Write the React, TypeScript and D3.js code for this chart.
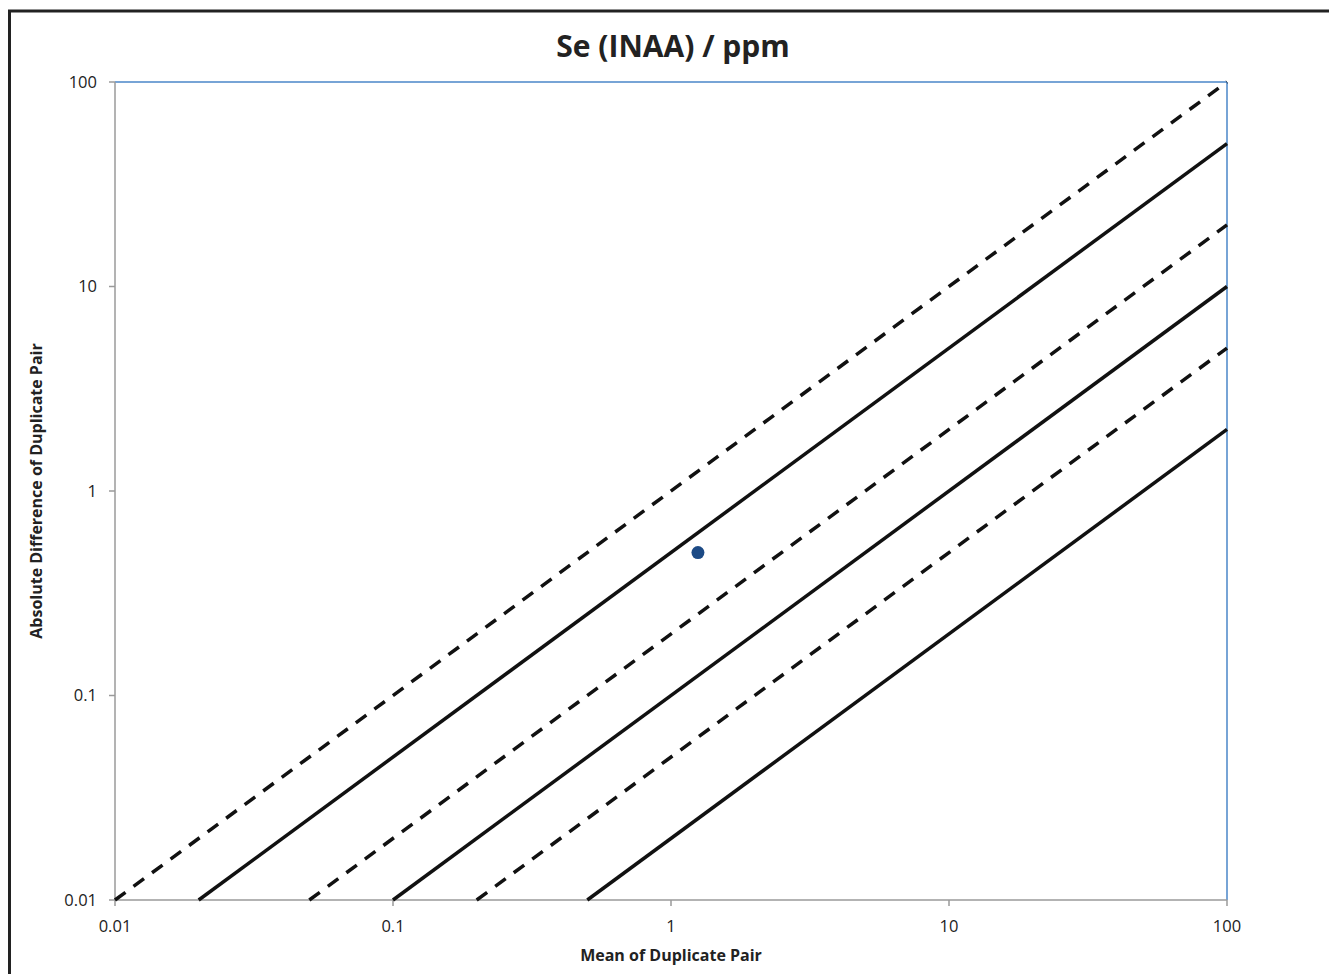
import React from "react";
import * as d3 from "d3";

const W = 1329;
const H = 974;

const title = "Se (INAA) / ppm";
const xTitle = "Mean of Duplicate Pair";
const yTitle = "Absolute Difference of Duplicate Pair";

const tickValues = [0.01, 0.1, 1, 10, 100];
const tickLabels = ["0.01", "0.1", "1", "10", "100"];

// reference lines: y = ratio * x
const lineRatios = [1, 0.5, 0.2, 0.1, 0.05, 0.02];
const lineDashed = [true, false, true, false, true, false];

// data point(s)
const pointX = [1.25];
const pointY = [0.5];

export default function App() {
  const left = 115, right = 1227, top = 82, bottom = 900;
  const x = d3.scaleLog().domain([0.01, 100]).range([left, right]);
  const y = d3.scaleLog().domain([0.01, 100]).range([bottom, top]);
  const font = "'Open Sans', sans-serif";
  const line = d3
    .line<[number, number]>()
    .x((d) => x(d[0]))
    .y((d) => y(d[1]));

  return (
    <svg
      width={W}
      height={H}
      style={{ position: "absolute", left: 0, top: 0, background: "#fff" }}
    >
      <rect x={0} y={0} width={W} height={H} fill="#fff" />
      <rect x={9.5} y={11} width={W + 10} height={H + 10} fill="none" stroke="#222" strokeWidth={3} />
      <text x={673} y={57} textAnchor="middle" fontFamily={font} fontWeight="bold" fontSize={30} fill="#222">
        {title}
      </text>

      {/* axes frame */}
      <line x1={left} x2={right} y1={top} y2={top} stroke="#4a86c8" strokeWidth={1.5} />
      <line x1={right} x2={right} y1={top} y2={bottom} stroke="#4a86c8" strokeWidth={1.5} />
      <line x1={left} x2={left} y1={top} y2={bottom} stroke="#9a9a9a" strokeWidth={1.5} />
      <line x1={left} x2={right} y1={bottom} y2={bottom} stroke="#9a9a9a" strokeWidth={1.5} />

      {tickValues.map((v, i) => (
        <g key={"y" + i}>
          <line x1={left - 6} x2={left} y1={y(v)} y2={y(v)} stroke="#9a9a9a" strokeWidth={1.5} />
          <text x={97} y={y(v)} dy="0.35em" textAnchor="end" fontFamily={font} fontSize={16.5} fill="#222">
            {tickLabels[i]}
          </text>
        </g>
      ))}
      {tickValues.map((v, i) => (
        <g key={"x" + i}>
          <line x1={x(v)} x2={x(v)} y1={bottom} y2={bottom + 6} stroke="#9a9a9a" strokeWidth={1.5} />
          <text x={x(v)} y={926} dy="0.35em" textAnchor="middle" fontFamily={font} fontSize={16.5} fill="#222">
            {tickLabels[i]}
          </text>
        </g>
      ))}

      <text x={671} y={955} dy="0.35em" textAnchor="middle" fontFamily={font} fontWeight="bold" fontSize={16} fill="#222">
        {xTitle}
      </text>
      <text
        transform={`translate(36,491) rotate(-90)`}
        dy="0.35em"
        textAnchor="middle"
        fontFamily={font}
        fontWeight="bold"
        fontSize={16}
        fill="#222"
      >
        {yTitle}
      </text>

      {lineRatios.map((r, i) => {
        const x0 = Math.max(0.01, 0.01 / r);
        const pts: [number, number][] = [
          [x0, x0 * r],
          [100, 100 * r],
        ];
        return (
          <path
            key={"l" + i}
            d={line(pts) || ""}
            fill="none"
            stroke="#111"
            strokeWidth={3.5}
            strokeDasharray={lineDashed[i] ? "13,10" : undefined}
          />
        );
      })}

      {pointX.map((px, i) => (
        <circle key={"p" + i} cx={x(px)} cy={y(pointY[i])} r={6.5} fill="#1c4a85" />
      ))}
    </svg>
  );
}
